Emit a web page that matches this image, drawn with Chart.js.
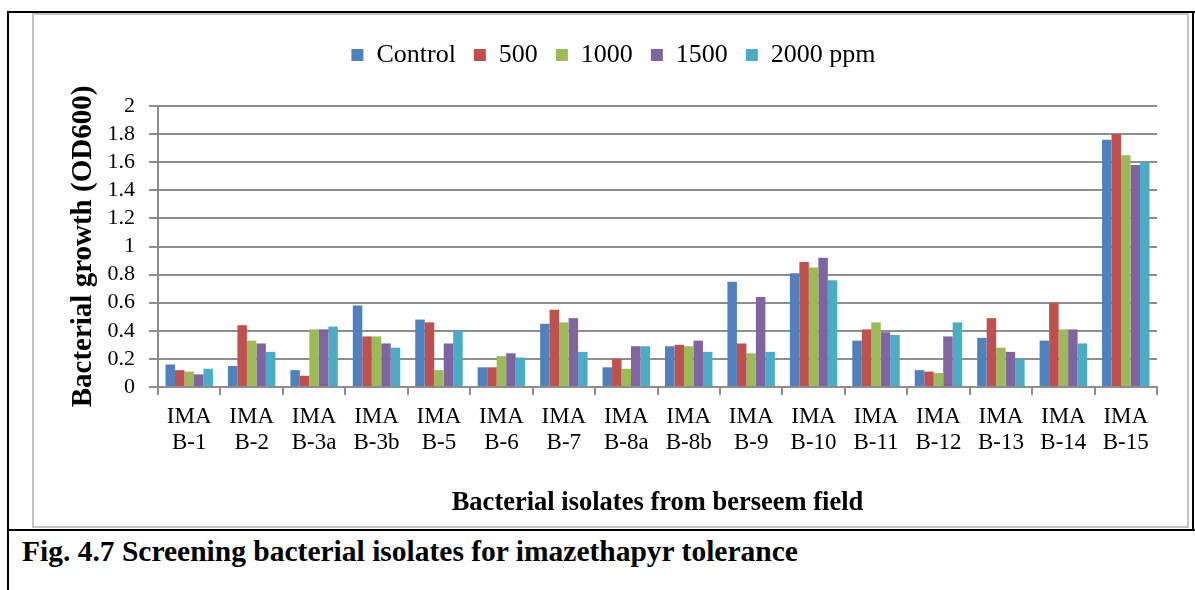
<!DOCTYPE html>
<html>
<head>
<meta charset="utf-8">
<script src="https://cdn.jsdelivr.net/npm/chart.js@4/dist/chart.umd.min.js"></script>
<style>
  body{margin:0;background:#fff;width:1195px;height:590px;position:relative;overflow:hidden;font-family:"Liberation Serif","Times New Roman",serif;}
  .ln{position:absolute;background:#000;}
  #box{position:absolute;left:32px;top:13px;width:1153px;height:511px;border:2px solid #c4c4c4;}
  #wrap{position:absolute;left:0;top:0;width:1153px;height:511px;}
  #caption{position:absolute;left:22px;top:534px;font-weight:bold;font-size:29.5px;line-height:34px;white-space:nowrap;}
</style>
</head>
<body>
<div class="ln" style="left:7px;top:11px;width:1188px;height:2px"></div>
<div class="ln" style="left:7px;top:11px;width:2px;height:579px"></div>
<div class="ln" style="left:1192px;top:11px;width:2px;height:520px"></div>
<div class="ln" style="left:7px;top:529px;width:1188px;height:2px"></div>
<div id="box"><div id="wrap"><canvas id="growthChart"></canvas></div></div>
<div id="caption">Fig. 4.7 Screening bacterial isolates for imazethapyr tolerance</div>
<script>
// isolates and OD600 readings per concentration
let isolates=["B-1","B-2","B-3a","B-3b","B-5","B-6","B-7","B-8a","B-8b","B-9","B-10","B-11","B-12","B-13","B-14","B-15"];
let control=[0.16,0.15,0.12,0.58,0.48,0.14,0.45,0.14,0.29,0.75,0.81,0.33,0.12,0.35,0.33,1.76];
let ppm500=[0.12,0.44,0.08,0.36,0.46,0.14,0.55,0.20,0.30,0.31,0.89,0.41,0.11,0.49,0.60,1.80];
let ppm1000=[0.11,0.33,0.41,0.36,0.12,0.22,0.46,0.13,0.29,0.24,0.85,0.46,0.10,0.28,0.41,1.65];
let ppm1500=[0.09,0.31,0.41,0.31,0.31,0.24,0.49,0.29,0.33,0.64,0.92,0.39,0.36,0.25,0.41,1.58];
let ppm2000=[0.13,0.25,0.43,0.28,0.40,0.21,0.25,0.29,0.25,0.25,0.76,0.37,0.46,0.20,0.31,1.60];
let seriesNames=["Control","500","1000","1500","2000 ppm"];
let yTicks=[0,0.2,0.4,0.6,0.8,1,1.2,1.4,1.6,1.8,2];

let colors=["#4F81BD","#C0504D","#9BBB59","#8064A2","#4BACC6"];
let values=[control,ppm500,ppm1000,ppm1500,ppm2000];
let serif='"Liberation Serif", "Times New Roman", serif';
let gridGray="#8e8e8e";

// extra room under the legend and nudge it right (Excel centres it on the whole box)
let legendGap={
    id:"legendGap",
    beforeLayout:function(chart){
        let lg=chart.legend;
        if(lg && !lg._gapDone){
            let fit=lg.fit;
            lg.fit=function(){fit.call(this);this.height+=28;};
            lg._gapDone=true;
        }
    },
    afterLayout:function(chart){
        let lg=chart.legend;
        if(lg){lg.left+=18;lg.right+=18;}
    }
};

document.addEventListener("DOMContentLoaded",() =>{
    Chart.defaults.font.family=serif;
    Chart.defaults.color="#000";

    let datasets=[];
    for(let i=0;i<values.length;i++){
        datasets.push({
            label:seriesNames[i],
            data:values[i],
            backgroundColor:colors[i],
            borderWidth:0,
            barPercentage:1,
            categoryPercentage:0.76
        });
    }

    new Chart(document.querySelector("#growthChart"),{
        type:"bar",
        data:{
            labels:isolates.map(l => ["IMA",l]),
            datasets:datasets
        },
        plugins:[legendGap],
        options:{
            responsive:true,
            maintainAspectRatio:false,
            animation:false,
            layout:{padding:{top:9,right:30,left:0,bottom:0}},
            plugins:{
                tooltip:{enabled:false},
                legend:{
                    position:"top",
                    labels:{
                        boxWidth:12,boxHeight:12,padding:18,
                        color:"#000",
                        font:{family:serif,size:26}
                    }
                }
            },
            scales:{
                x:{
                    grid:{display:true,drawOnChartArea:false,drawTicks:true,tickLength:8,color:gridGray,lineWidth:2},
                    border:{color:gridGray,width:2},
                    ticks:{color:"#000",font:{family:serif,size:23,lineHeight:1.17},padding:8,maxRotation:0,autoSkip:false},
                    title:{display:true,text:"Bacterial isolates from berseem field",color:"#000",font:{family:serif,size:26.5,weight:"bold"},padding:{top:4,bottom:7}},
                    afterFit:function(scale){scale.height=139;}
                },
                y:{
                    min:0,max:2,
                    afterBuildTicks:function(scale){scale.ticks=yTicks.map(v => ({value:v}));},
                    grid:{color:gridGray,lineWidth:2,tickLength:9},
                    border:{color:gridGray,width:2},
                    ticks:{color:"#000",font:{family:serif,size:22},padding:14,autoSkip:false,callback:function(v){return String(v);}},
                    title:{display:true,text:"Bacterial growth (OD600)",color:"#000",font:{family:serif,size:29,weight:"bold"},padding:{top:32,bottom:4}},
                    afterFit:function(scale){scale.width=124;}
                }
            }
        }
    });
})
</script>
</body>
</html>
